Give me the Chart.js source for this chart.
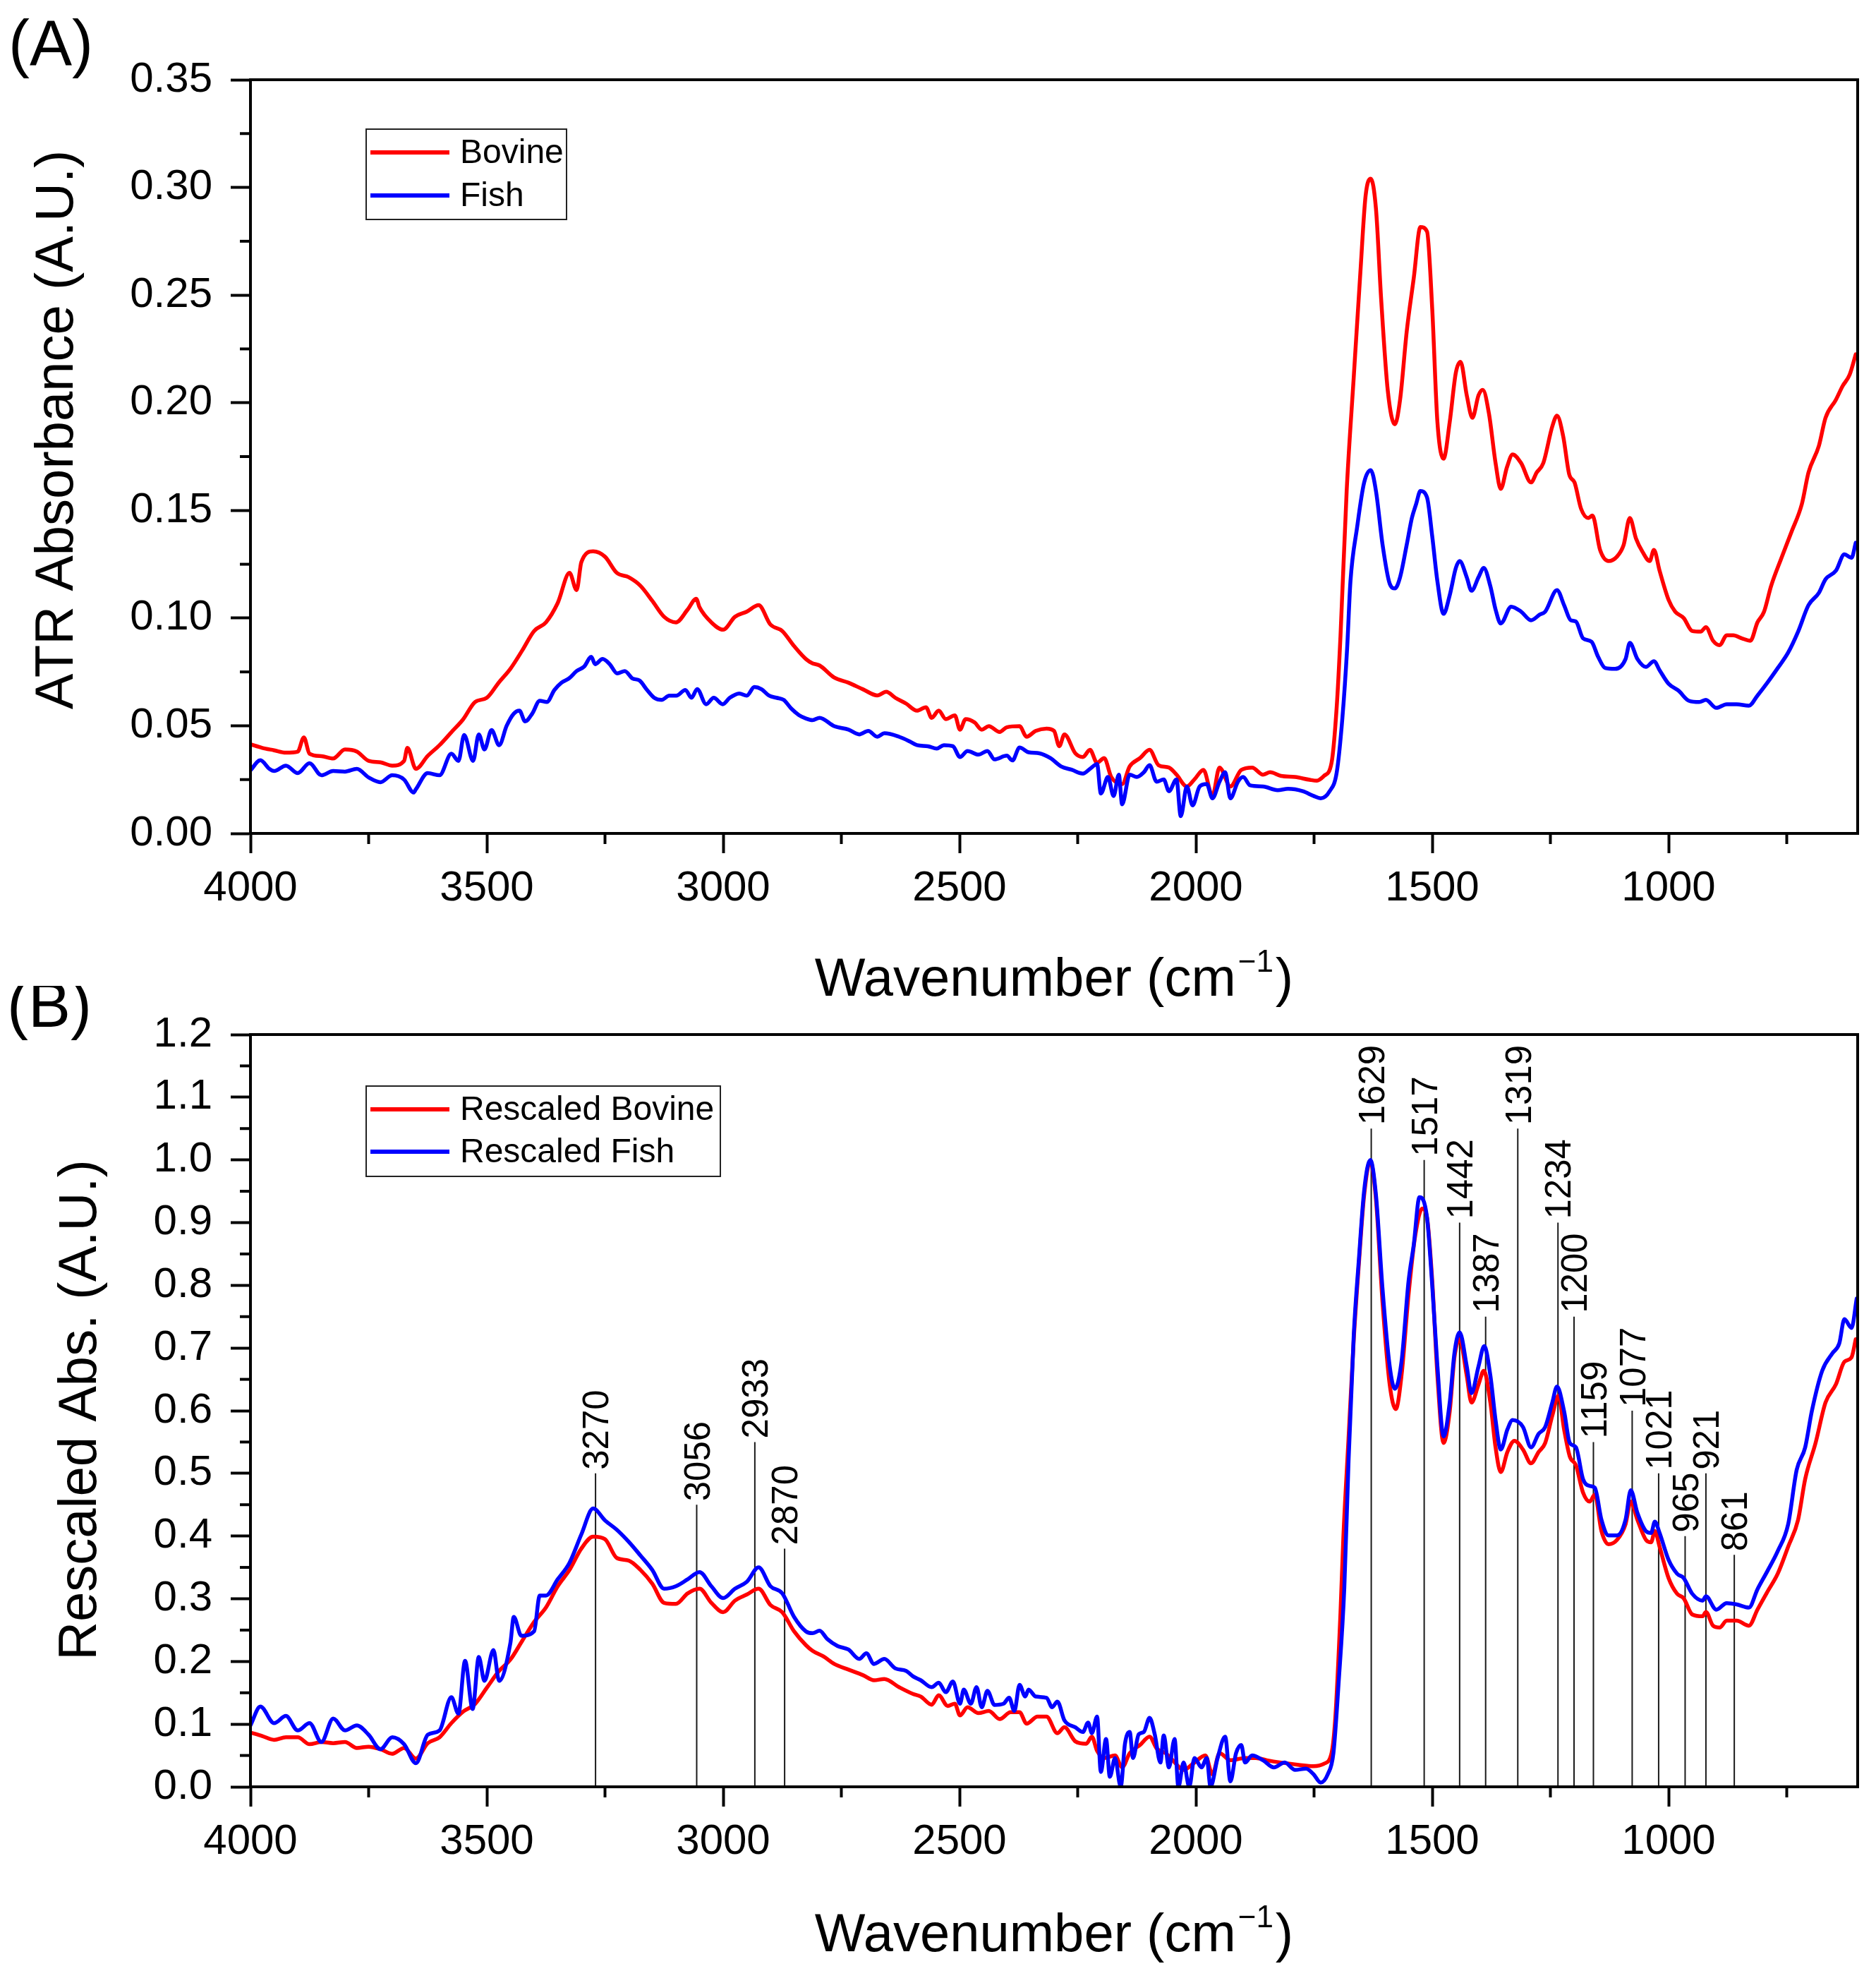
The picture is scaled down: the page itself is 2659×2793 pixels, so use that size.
<!DOCTYPE html>
<html>
<head>
<meta charset="utf-8">
<script src="https://cdn.jsdelivr.net/npm/chart.js@4.4.1/dist/chart.umd.min.js"></script>
<style>
  html, body { margin: 0; padding: 0; background: #ffffff; }
  #wrap { position: relative; width: 2659px; height: 2793px; background: #ffffff; overflow: hidden; }
  canvas { position: absolute; left: 0; }
  #cA { top: 0; }
  #cB { top: 1397px; }
</style>
</head>
<body>
<div id="wrap">
  <canvas id="cA" width="2659" height="1440"></canvas>
  <canvas id="cB" width="2659" height="1396"></canvas>
</div>
<script>
// ---------------- DATA ----------------
const xMajorTicks = [4000, 3500, 3000, 2500, 2000, 1500, 1000];
const xMinorTicks = [3750, 3250, 2750, 2250, 1750, 1250, 750];

const yTicksA = [0, 0.05, 0.10, 0.15, 0.20, 0.25, 0.30, 0.35];
const yTickLabelsA = ['0.00', '0.05', '0.10', '0.15', '0.20', '0.25', '0.30', '0.35'];
const yMinorA = [0.025, 0.075, 0.125, 0.175, 0.225, 0.275, 0.325];

const yTicksB = [0, 0.1, 0.2, 0.3, 0.4, 0.5, 0.6, 0.7, 0.8, 0.9, 1.0, 1.1, 1.2];
const yTickLabelsB = ['0.0', '0.1', '0.2', '0.3', '0.4', '0.5', '0.6', '0.7', '0.8', '0.9', '1.0', '1.1', '1.2'];
const yMinorB = [0.05, 0.15, 0.25, 0.35, 0.45, 0.55, 0.65, 0.75, 0.85, 0.95, 1.05, 1.15];

// Panel A - Bovine  [wavenumber, ATR absorbance]
const bovineA = [[4000,.0414],[3975,.0397],[3950,.0386],[3925,.0375],[3900,.0380],[3887,.0446],[3875,.0370],[3850,.0359],[3825,.0348],[3800,.0390],[3775,.0380],[3750,.0337],[3725,.0330],[3700,.0315],[3675,.0337],[3668,.0397],[3650,.0300],[3625,.0360],[3600,.0410],[3575,.0470],[3550,.0530],[3525,.0610],[3500,.0630],[3475,.0700],[3450,.0765],[3425,.0850],[3400,.0940],[3375,.0980],[3350,.1070],[3325,.1210],[3310,.1130],[3300,.1260],[3275,.1310],[3250,.1285],[3225,.1210],[3200,.1190],[3175,.1150],[3150,.1080],[3125,.1006],[3100,.0980],[3075,.1040],[3057,.1090],[3050,.1050],[3025,.0980],[3000,.0946],[2975,.1006],[2950,.1030],[2925,.1060],[2900,.0970],[2875,.0940],[2850,.0870],[2825,.0810],
[2811,.0790],[2796,.0780],[2765,.0724],[2735,.0700],[2704,.0669],[2674,.0641],[2655,.0658],[2636,.0630],[2613,.0603],[2590,.0570],[2571,.0586],[2559,.0537],[2544,.0570],[2529,.0531],[2510,.0548],[2499,.0482],[2487,.0531],[2468,.0515],[2453,.0482],[2438,.0498],[2415,.0471],[2400,.0493],[2373,.0498],[2358,.0449],[2339,.0476],[2316,.0487],[2300,.0476],[2289,.0405],[2278,.0460],[2255,.0372],[2239,.0355],[2224,.0388],[2209,.0328],[2194,.0350],[2179,.0262],[2156,.0229],[2140,.0311],[2118,.0350],[2098,.0388],[2079,.0317],[2057,.0306],[2041,.0273],[2019,.0218],[2003,.0251],[1984,.0295],[1965,.0174],[1950,.0306],[1927,.0218],[1904,.0295],[1881,.0306],[1858,.0273],[1843,.0284],[1820,.0267],[1790,.0262],[1759,.0249],[1744,.0245],[1729,.0267],[1713,.0328],[1702,.0590],[1694,.0920],[1681,.1590],[1666,.2120],[1652,.2605],[1641,.2960],[1630,.3040],[1619,.2900],[1608,.2480],[1594,.2056],[1579,.1900],[1568,.2014],[1554,.2330],[1539,.2580],[1525,.2816],[1511,.2795],[1500,.2436],[1489,.1910],[1476,.1740],[1463,.1910],[1450,.2140],[1440,.2190],[1427,.2035],[1415,.1930],[1402,.2035],[1393,.2060],[1380,.1950],[1366,.1720],[1355,.1600],[1342,.1700],[1330,.1760],[1312,.1720],[1291,.1630],[1279,.1676],[1265,.1720],[1246,.1890],[1236,.1940],[1223,.1845],[1210,.1666],[1199,.1630],[1185,.1507],[1170,.1465],[1161,.1476],[1145,.1317],[1127,.1265],[1109,.1286],[1095,.1340],[1082,.1465],[1069,.1370],[1055,.1307],[1040,.1265],[1031,.1317],[1019,.1220],[1000,.1085],[986,.1030],[968,.1000],[950,.0940],[932,.0937],[921,.0958],[906,.0895],[892,.0874],[877,.0920],[863,.0920],[845,.0906],[827,.0895],[812,.0980],[798,.1030],[783,.1150],[762,.1275],[740,.1400],[718,.1530],[704,.1676],[682,.1800],[668,.1930],[646,.2014],[632,.2077],[617,.2130],[604,.2225]];

// Panel A - Fish
const fishA = [[4000,.0293],[3979,.0340],[3960,.0300],[3950,.0290],[3925,.0315],[3900,.0280],[3875,.0326],[3850,.0270],[3825,.0290],[3800,.0287],[3775,.0300],[3750,.0260],[3725,.0238],[3700,.0270],[3675,.0250],[3655,.0190],[3650,.0205],[3625,.0280],[3600,.0270],[3575,.0370],[3560,.0337],[3548,.0457],[3529,.0337],[3517,.0460],[3505,.0390],[3490,.0480],[3474,.0410],[3458,.0500],[3443,.0556],[3431,.0570],[3419,.0520],[3404,.0556],[3388,.0616],[3373,.0610],[3357,.0666],[3342,.0700],[3326,.0720],[3310,.0754],[3294,.0775],[3279,.0820],[3271,.0786],[3255,.0810],[3240,.0786],[3224,.0743],[3208,.0754],[3192,.0720],[3177,.0710],[3161,.0666],[3146,.0630],[3130,.0620],[3114,.0640],[3099,.0640],[3080,.0666],[3067,.0630],[3055,.0670],[3036,.0600],[3020,.0630],[3001,.0600],[2986,.0630],[2966,.0650],[2950,.0640],[2934,.0680],[2919,.0670],[2903,.0640],[2887,.0630],[2872,.0620],[2856,.0580],[2840,.0550],[2825,.0534],
[2811,.0526],[2796,.0537],[2765,.0498],[2735,.0482],[2712,.0460],[2693,.0476],[2674,.0449],[2659,.0465],[2628,.0449],[2605,.0427],[2590,.0410],[2567,.0405],[2548,.0394],[2533,.0410],[2514,.0405],[2499,.0355],[2483,.0383],[2460,.0366],[2441,.0383],[2426,.0344],[2400,.0361],[2388,.0339],[2373,.0399],[2354,.0377],[2331,.0372],[2308,.0350],[2285,.0311],[2262,.0295],[2239,.0278],[2224,.0300],[2209,.0322],[2201,.0185],[2186,.0262],[2174,.0174],[2163,.0273],[2156,.0135],[2140,.0273],[2125,.0262],[2110,.0284],[2098,.0317],[2083,.0240],[2068,.0251],[2057,.0196],[2041,.0251],[2032,.0080],[2019,.0218],[2007,.0130],[1992,.0218],[1977,.0229],[1965,.0163],[1950,.0240],[1938,.0284],[1927,.0163],[1911,.0240],[1900,.0262],[1885,.0223],[1858,.0218],[1827,.0201],[1805,.0207],[1774,.0196],[1751,.0174],[1736,.0163],[1717,.0196],[1702,.0284],[1690,.0537],[1680,.0860],[1673,.1170],[1659,.1420],[1644,.1630],[1630,.1687],[1619,.1590],[1605,.1340],[1590,.1160],[1579,.1138],[1568,.1190],[1554,.1340],[1543,.1465],[1534,.1530],[1525,.1590],[1511,.1560],[1500,.1380],[1489,.1170],[1476,.1020],[1463,.1106],[1450,.1233],[1442,.1265],[1427,.1190],[1417,.1127],[1402,.1190],[1391,.1233],[1377,.1148],[1366,.1040],[1355,.0975],[1333,.1053],[1312,.1030],[1291,.0990],[1272,.1017],[1261,.1030],[1236,.1130],[1221,.1060],[1207,.0990],[1196,.0984],[1181,.0906],[1163,.0890],[1149,.0820],[1134,.0768],[1113,.0764],[1091,.0810],[1082,.0885],[1066,.0810],[1048,.0773],[1031,.0800],[1019,.0758],[1000,.0695],[979,.0663],[957,.0616],[935,.0610],[921,.0620],[899,.0583],[877,.0600],[856,.0600],[830,.0593],[812,.0640],[791,.0700],[769,.0768],[747,.0840],[726,.0937],[704,.1060],[682,.1117],[668,.1180],[646,.1220],[628,.1296],[613,.1280],[604,.1350]];

// Panel B - Rescaled Bovine
const bovineB = [[4000,.0866],[3975,.0810],[3950,.0750],[3925,.0790],[3900,.0790],[3875,.0680],[3850,.0715],[3825,.0696],[3800,.0715],[3775,.0620],[3750,.0640],[3725,.0600],[3700,.0527],[3675,.0620],[3650,.0450],[3625,.0696],[3600,.0790],[3575,.1016],[3550,.1200],[3525,.1320],[3500,.1580],[3475,.1840],[3450,.2030],[3425,.2330],[3400,.2630],[3375,.2860],[3350,.3200],[3325,.3460],[3300,.3800],[3275,.3990],[3250,.3950],[3225,.3650],[3200,.3610],[3175,.3460],[3150,.3240],[3125,.2935],[3100,.2917],[3075,.3086],[3050,.3160],[3025,.2935],[3000,.2785],[2975,.2970],[2950,.3067],[2925,.3160],[2900,.2900],[2875,.2785],[2850,.2480],[2825,.2260],
[2811,.217],[2788,.208],[2765,.196],[2735,.187],[2704,.178],[2681,.170],[2659,.172],[2628,.159],[2598,.148],[2582,.144],[2559,.131],[2544,.146],[2525,.129],[2510,.1326],[2499,.114],[2483,.127],[2460,.1176],[2438,.121],[2415,.108],[2392,.119],[2373,.119],[2358,.1007],[2335,.112],[2316,.112],[2293,.0856],[2278,.095],[2255,.0725],[2232,.0687],[2220,.080],[2209,.0574],[2194,.046],[2171,.050],[2156,.031],[2140,.0537],[2118,.0668],[2098,.080],[2083,.0612],[2064,.0537],[2049,.0424],[2026,.027],[2003,.0387],[1980,.050],[1965,.020],[1950,.0537],[1927,.0424],[1896,.046],[1873,.046],[1850,.0424],[1820,.0387],[1782,.035],[1751,.033],[1729,.0368],[1713,.0537],[1705,.110],[1694,.279],[1688,.398],[1677,.556],[1666,.714],[1655,.836],[1644,.944],[1631,.998],[1619,.937],[1605,.772],[1590,.642],[1577,.6026],[1565,.656],[1550,.786],[1536,.879],[1521,.9225],[1511,.908],[1500,.8075],[1489,.656],[1476,.5486],[1463,.599],[1453,.685],[1442,.714],[1427,.656],[1417,.613],[1402,.642],[1391,.6637],[1377,.613],[1366,.5415],[1355,.502],[1341,.534],[1326,.552],[1308,.538],[1291,.516],[1275,.534],[1261,.5486],[1246,.592],[1233,.624],[1221,.570],[1209,.527],[1196,.513],[1181,.4695],[1167,.455],[1156,.466],[1142,.408],[1127,.387],[1109,.394],[1091,.419],[1080,.455],[1066,.426],[1048,.394],[1037,.390],[1029,.408],[1019,.383],[1000,.333],[982,.308],[968,.3006],[950,.275],[928,.272],[921,.279],[906,.257],[892,.254],[877,.265],[856,.265],[830,.257],[812,.2826],[791,.311],[769,.340],[747,.383],[726,.426],[711,.491],[689,.5486],[668,.613],[646,.642],[628,.678],[613,.685],[604,.714]];

// Panel B - Rescaled Fish
const fishB = [[4000,.0980],[3979,.1280],[3950,.1016],[3925,.1130],[3900,.0900],[3875,.1016],[3850,.0715],[3825,.1090],[3800,.0900],[3775,.0980],[3750,.0830],[3725,.0600],[3700,.0790],[3675,.0680],[3650,.0376],[3625,.0830],[3600,.0900],[3575,.1430],[3560,.1167],[3546,.2010],[3530,.1240],[3517,.2070],[3505,.1690],[3486,.2180],[3474,.1690],[3450,.2300],[3443,.2710],[3427,.2410],[3400,.2480],[3388,.3050],[3375,.3050],[3350,.3310],[3325,.3575],[3300,.4027],[3275,.4440],[3250,.4250],[3225,.4100],[3200,.3910],[3175,.3690],[3150,.3460],[3125,.3160],[3100,.3200],[3075,.3310],[3050,.3425],[3025,.3200],[3000,.3010],[2975,.3160],[2950,.3270],[2925,.3500],[2900,.3200],[2875,.3086],[2850,.2710],[2825,.2480],
[2811,.245],[2796,.249],[2780,.236],[2758,.2246],[2735,.219],[2712,.204],[2697,.213],[2681,.196],[2659,.204],[2636,.189],[2613,.185],[2598,.176],[2582,.170],[2559,.159],[2544,.166],[2529,.151],[2514,.168],[2499,.1326],[2491,.155],[2476,.1326],[2464,.159],[2453,.127],[2441,.153],[2426,.1307],[2407,.1326],[2395,.142],[2384,.121],[2373,.1626],[2361,.144],[2354,.155],[2339,.144],[2316,.142],[2304,.127],[2293,.136],[2278,.106],[2255,.095],[2239,.0875],[2228,.1025],[2220,.0856],[2209,.112],[2201,.0237],[2190,.0762],[2182,.016],[2171,.046],[2159,0],[2150,.0687],[2140,.0875],[2133,.046],[2121,.0837],[2110,.0875],[2098,.110],[2087,.0837],[2075,.0387],[2068,.082],[2057,.031],[2045,.0762],[2037,0],[2026,.0387],[2014,0],[2003,.046],[1988,.031],[1977,.046],[1969,0],[1954,.046],[1938,.080],[1927,.0086],[1915,.0537],[1904,.0668],[1896,.0387],[1881,.050],[1858,.0424],[1835,.031],[1812,.0387],[1790,.027],[1767,.029],[1751,.020],[1736,.0068],[1721,.020],[1709,.0537],[1698,.166],[1686,.317],[1677,.520],[1666,.721],[1655,.843],[1644,.951],[1631,1.0],[1619,.944],[1605,.793],[1590,.671],[1579,.635],[1565,.678],[1550,.807],[1539,.865],[1527,.9405],[1511,.908],[1500,.800],[1489,.671],[1476,.559],[1463,.613],[1453,.692],[1442,.725],[1427,.671],[1417,.628],[1402,.671],[1390,.703],[1377,.656],[1366,.585],[1355,.538],[1341,.570],[1330,.585],[1308,.574],[1291,.5415],[1275,.563],[1261,.574],[1246,.613],[1236,.6385],[1221,.599],[1209,.5486],[1196,.5415],[1181,.491],[1167,.480],[1156,.477],[1142,.426],[1127,.401],[1109,.401],[1091,.426],[1080,.473],[1066,.437],[1048,.408],[1037,.405],[1029,.423],[1019,.405],[1000,.362],[982,.340],[968,.333],[950,.308],[928,.297],[921,.304],[899,.2826],[877,.293],[856,.291],[830,.286],[812,.315],[791,.344],[769,.376],[747,.419],[729,.5055],[711,.5415],[697,.599],[675,.6637],[653,.692],[639,.707],[628,.746],[613,.732],[602,.779]];

// Peak annotations (panel B)
const peakWavenumbers = [3270, 3056, 2933, 2870, 1629, 1517, 1442, 1387, 1319, 1234, 1200, 1159, 1077, 1021, 965, 921, 861];
const peakLineTops   = [0.50, 0.45, 0.55, 0.38, 1.05, 1.00, 0.90, 0.75, 1.05, 0.90, 0.75, 0.55, 0.60, 0.50, 0.40, 0.50, 0.37];

// ---------------- STYLE ----------------
const FONT = "'Liberation Sans', Arial, 'DejaVu Sans', sans-serif";
const RED = '#ff0000', BLUE = '#0000ff';

function pts(pairs) { return pairs.map(p => ({ x: p[0], y: p[1] })); }

function curve(label, pairs, color, order) {
  return { label, data: pts(pairs), borderColor: color, backgroundColor: color, borderWidth: 5.5,
           borderJoinStyle: 'round', borderCapStyle: 'round',
           pointRadius: 0, cubicInterpolationMode: 'monotone', fill: false, order };
}

function drawXTitle(ctx, cx, baseline) {
  ctx.save();
  ctx.fillStyle = '#000';
  ctx.textBaseline = 'alphabetic';
  ctx.textAlign = 'left';
  const main = 'Wavenumber (cm';
  ctx.font = '76px ' + FONT;
  const w1 = ctx.measureText(main).width;
  const w3 = ctx.measureText(')').width;
  ctx.font = '44px ' + FONT;
  const sup = '\u22121';
  const w2 = ctx.measureText(sup).width + 6;
  const total = w1 + w2 + w3;
  const x0 = cx - total / 2;
  ctx.font = '76px ' + FONT;
  ctx.fillText(main, x0, baseline);
  ctx.font = '44px ' + FONT;
  ctx.fillText(sup, x0 + w1 + 3, baseline - 34);
  ctx.font = '76px ' + FONT;
  ctx.fillText(')', x0 + w1 + w2, baseline);
  ctx.restore();
}

function drawYTitle(ctx, text, bx, cy) {
  ctx.save();
  ctx.fillStyle = '#000';
  ctx.font = '76px ' + FONT;
  ctx.translate(bx, cy);
  ctx.rotate(-Math.PI / 2);
  ctx.textAlign = 'center';
  ctx.textBaseline = 'alphabetic';
  ctx.fillText(text, 0, 0);
  ctx.restore();
}

function drawLegend(ctx, box, entries) {
  ctx.save();
  ctx.strokeStyle = '#222';
  ctx.lineWidth = 2;
  ctx.strokeRect(box.x, box.y, box.w, box.h);
  ctx.font = '48px ' + FONT;
  ctx.textBaseline = 'middle';
  ctx.textAlign = 'left';
  entries.forEach(e => {
    ctx.strokeStyle = e.color;
    ctx.lineWidth = 6;
    ctx.beginPath();
    ctx.moveTo(box.x + 6, e.y);
    ctx.lineTo(box.x + 118, e.y);
    ctx.stroke();
    ctx.fillStyle = '#000';
    ctx.fillText(e.text, box.x + 133, e.y + 2);
  });
  ctx.restore();
}

function decor(cfg) {
  return {
    id: 'decor' + cfg.key,
    afterDraw(chart) {
      const ctx = chart.ctx, ca = chart.chartArea, xs = chart.scales.x, ys = chart.scales.y;
      ctx.save();
      ctx.strokeStyle = '#000';
      ctx.lineWidth = 4;
      xMinorTicks.forEach(v => {
        const px = xs.getPixelForValue(v);
        ctx.beginPath(); ctx.moveTo(px, ca.bottom); ctx.lineTo(px, ca.bottom + 15); ctx.stroke();
      });
      cfg.yMinor.forEach(v => {
        const py = ys.getPixelForValue(v);
        ctx.beginPath(); ctx.moveTo(ca.left, py); ctx.lineTo(ca.left - 15, py); ctx.stroke();
      });
      ctx.strokeRect(ca.left, ca.top, ca.right - ca.left, ca.bottom - ca.top);
      ctx.restore();

      if (cfg.peaks) {
        ctx.save();
        ctx.fillStyle = '#000';
        const fs = 51;
        ctx.font = fs + 'px ' + FONT;
        ctx.textAlign = 'left';
        ctx.textBaseline = 'alphabetic';
        peakWavenumbers.forEach((w, i) => {
          const px = xs.getPixelForValue(w);
          const py = ys.getPixelForValue(peakLineTops[i]);
          ctx.save();
          ctx.translate(px, py - 5);
          ctx.rotate(-Math.PI / 2);
          ctx.fillText(String(w), 0, 0.358 * fs);
          ctx.restore();
        });
        ctx.restore();
      }

      drawLegend(ctx, cfg.legendBox, cfg.legendEntries);

      ctx.save();
      ctx.fillStyle = '#000';
      ctx.font = '90px ' + FONT;
      ctx.textAlign = 'left';
      ctx.textBaseline = 'alphabetic';
      ctx.fillText(cfg.panel, cfg.panelX, cfg.panelY);
      ctx.restore();

      drawYTitle(ctx, cfg.yTitle, cfg.yTitleX, cfg.yTitleY);
      drawXTitle(ctx, (ca.left + ca.right) / 2, cfg.xTitleY);
    }
  };
}

function makeChart(id, cfg) {
  return new Chart(document.getElementById(id), {
    type: 'line',
    data: { datasets: cfg.datasets },
    options: {
      responsive: false,
      animation: false,
      devicePixelRatio: 1,
      events: [],
      layout: { padding: { top: cfg.padTop, right: 26, left: 0, bottom: 0 } },
      plugins: { legend: { display: false }, tooltip: { enabled: false }, title: { display: false } },
      scales: {
        x: {
          type: 'linear', reverse: true, min: 600, max: 4000,
          afterBuildTicks: s => { s.ticks = xMajorTicks.map(v => ({ value: v })); },
          afterFit: s => { s.height = cfg.xAxisHeight; },
          ticks: { font: { family: FONT, size: 60 }, color: '#000', padding: 14, maxRotation: 0, minRotation: 0,
                   autoSkip: false, callback: v => String(v) },
          grid: { display: true, drawOnChartArea: false, drawTicks: true, tickLength: 28, tickWidth: 4, tickColor: '#000' },
          border: { display: true, width: 4, color: '#000' }
        },
        y: {
          type: 'linear', min: 0, max: cfg.yMax,
          afterBuildTicks: s => { s.ticks = cfg.yTicks.map(v => ({ value: v })); },
          afterFit: s => { s.width = 355; },
          ticks: { font: { family: FONT, size: 60 }, color: '#000', padding: 26, autoSkip: false,
                   callback: (v, i) => cfg.yLabels[i] },
          grid: { display: true, drawOnChartArea: false, drawTicks: true, tickLength: 28, tickWidth: 4, tickColor: '#000' },
          border: { display: true, width: 4, color: '#000' }
        }
      }
    },
    plugins: [decor(cfg)]
  });
}

// Panel A
makeChart('cA', {
  key: 'A',
  padTop: 113,
  xAxisHeight: 259,
  yMax: 0.35,
  yTicks: yTicksA, yLabels: yTickLabelsA, yMinor: yMinorA,
  datasets: [
    curve('Bovine', bovineA, RED, 1),
    curve('Fish', fishA, BLUE, 0)
  ],
  legendBox: { x: 519, y: 183, w: 284, h: 128 },
  legendEntries: [ { text: 'Bovine', color: RED, y: 216 }, { text: 'Fish', color: BLUE, y: 277 } ],
  panel: '(A)', panelX: 12, panelY: 92,
  yTitle: 'ATR Absorbance (A.U.)', yTitleX: 103, yTitleY: 609,
  xTitleY: 1411,
  peaks: false
});

// Panel B
const peakDatasets = peakWavenumbers.map((w, i) => ({
  label: 'peak ' + w,
  data: [{ x: w, y: 0 }, { x: w, y: peakLineTops[i] }],
  borderColor: '#1a1a1a', borderWidth: 2, pointRadius: 0, fill: false, order: 5
}));

makeChart('cB', {
  key: 'B',
  padTop: 69,
  xAxisHeight: 261,
  yMax: 1.2,
  yTicks: yTicksB, yLabels: yTickLabelsB, yMinor: yMinorB,
  datasets: [
    curve('Rescaled Bovine', bovineB, RED, 1),
    curve('Rescaled Fish', fishB, BLUE, 0)
  ].concat(peakDatasets),
  legendBox: { x: 519, y: 142, w: 502, h: 128 },
  legendEntries: [ { text: 'Rescaled Bovine', color: RED, y: 175 }, { text: 'Rescaled Fish', color: BLUE, y: 235 } ],
  panel: '(B)', panelX: 10, panelY: 58,
  yTitle: 'Rescaled Abs. (A.U.)', yTitleX: 136, yTitleY: 601,
  xTitleY: 1368,
  peaks: true
});
</script>
</body>
</html>
